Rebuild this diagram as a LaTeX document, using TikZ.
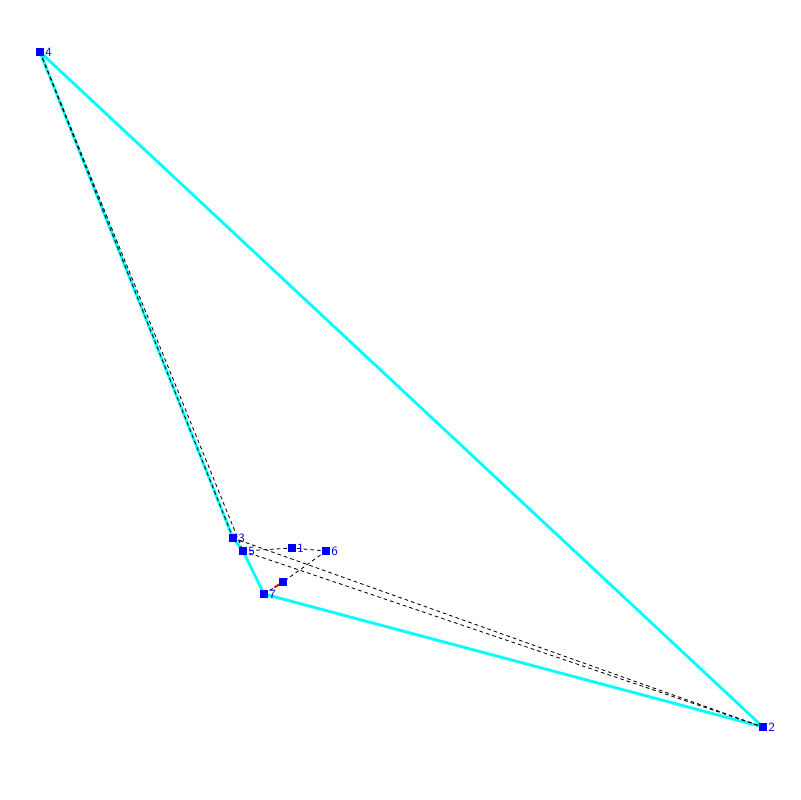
\documentclass[tikz,border=0pt]{standalone}
\usepackage{tikz}
\usetikzlibrary{calc}
\definecolor{hullcyan}{RGB}{0,255,255}
\definecolor{ptblue}{RGB}{0,0,255}
\tikzset{
  pnode/.style={rectangle, fill=ptblue, minimum size=5pt, inner sep=0pt},
  plabel/.style={text=ptblue, font=\sffamily\small, inner sep=1pt, anchor=west},
  hull/.style={line width=2pt, hullcyan, line join=round},
  gdash/.style={line width=0.6pt, black, dash pattern=on 2.6pt off 2.2pt},
  gred/.style={line width=1.4pt, red},
}
\begin{document}
\begin{tikzpicture}[x=0.025cm, y=-0.025cm]
  \useasboundingbox (0,0) rectangle (800,800);

  % ---- points ---------------------------------------------------------------
  \coordinate (p1) at (292,548);
  \coordinate (p2) at (763,727);
  \coordinate (p3) at (233,538);
  \coordinate (p4) at (40,52);
  \coordinate (p5) at (243,551);
  \coordinate (p6) at (326,551);
  \coordinate (p7) at (264,594);
  \coordinate (p8) at (283,582);
  \coordinate (r78) at ($(p7)!0.55!(p8)$);

  % ---- hull -----------------------------------------------------------------
  \draw[hull] (p4) -- (p3) -- (p5) -- (p7) -- (p2) -- cycle;

  % ---- dashed edges ---------------------------------------------------------
  \draw[gdash] (p4) -- (p3);
  \draw[gdash] (p4) -- (p5);
  \draw[gdash] (p3) -- (p2);
  \draw[gdash] (p5) -- (p2);
  \draw[gdash] (p5) -- (p1) -- (p6);
  \draw[gdash] (p6) -- (p8);
  \draw[gdash] (p7) -- (r78);
  \draw[gred] (r78) -- (p8);

  % ---- markers and labels -----------------------------------------------------
  \foreach \i in {1,...,7} {
    \node[pnode] (n\i) at (p\i) {};
    \node[plabel] (l\i) at (n\i.east) {\i};
  }
  \node[pnode] (n8) at (p8) {};
\end{tikzpicture}
\end{document}
